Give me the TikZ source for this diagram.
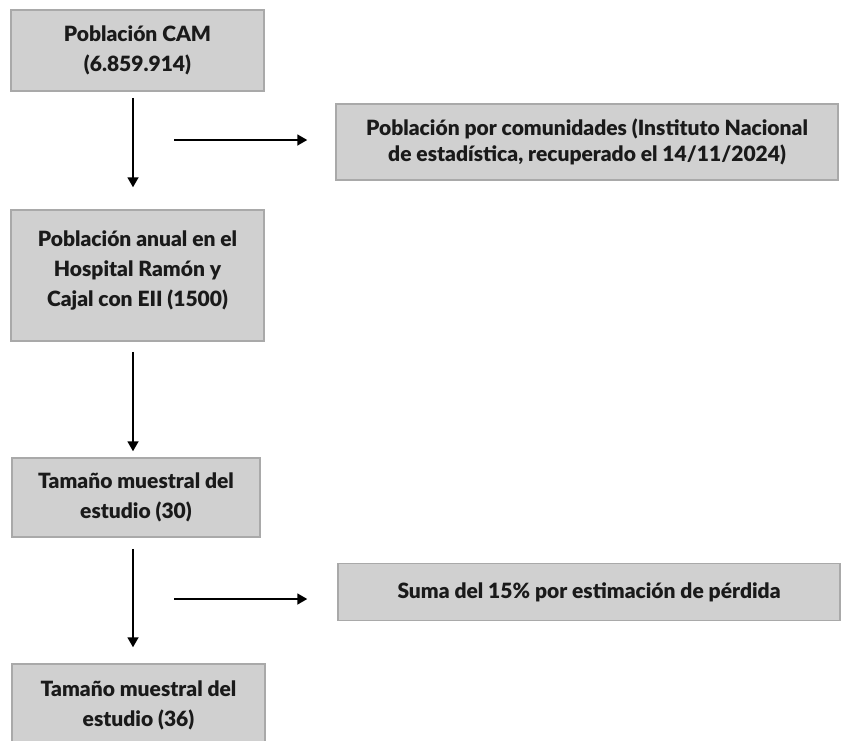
\documentclass[tikz,border=0pt]{standalone}
\usepackage{fontspec}
\setmainfont{Lato}[BoldFont={Lato Black}]
\usetikzlibrary{arrows.meta,positioning}
\definecolor{relleno}{HTML}{D0D0D0}
\definecolor{borde}{HTML}{A9A9A9}
\definecolor{texto}{HTML}{1A1A1A}
\tikzset{
    caja/.style={draw=borde, line width=1.5pt, fill=relleno, text=texto,
        font=\fontsize{21}{30}\selectfont\bfseries, align=center, inner sep=0pt},
    flecha/.style={-{Triangle[length=10pt,width=11pt]}, line width=1.8pt},
}
\begin{document}
\begin{tikzpicture}[x=1pt,y=-1pt]
    \useasboundingbox (0,0) rectangle (854,740);
    % columna izquierda
    \node[caja, minimum width=253pt, minimum height=81pt] (cam) at (137.5,50.5) {Población CAM\\(6.859.914)};
    \node[caja, minimum width=253pt, minimum height=131pt] (anual) at (137.5,275.5) {Población anual en el\\Hospital Ramón y\\Cajal con EII (1500)\\[-16pt]\mbox{}};
    \node[caja, minimum width=248pt, minimum height=79pt] (muestra) at (136,497.5) {Tamaño muestral del\\estudio (30)};
    \node[caja, minimum width=253pt, minimum height=82pt] (final) at (138.5,705) {Tamaño muestral del\\estudio (36)};
    % columna derecha
    \node[caja, font=\fontsize{21}{26}\selectfont\bfseries, minimum width=502pt, minimum height=76pt] (ine) at (587,142) {Población por comunidades (Instituto Nacional\\de estadística, recuperado el 14/11/2024)};
    \node[caja, minimum width=502pt, minimum height=57pt] (perdida) at (589,592) {Suma del 15\% por estimación de pérdida};
    % flechas
    \coordinate (eje) at (133,0);
    \coordinate (h1) at (174,140);
    \coordinate (h2) at (174,599);
    \draw[flecha, shorten <=6pt, shorten >=22pt] (cam.south -| eje) -- (anual.north -| eje);
    \draw[flecha, shorten <=10pt, shorten >=6pt] (anual.south -| eje) -- (muestra.north -| eje);
    \draw[flecha, shorten <=11pt, shorten >=16pt] (muestra.south -| eje) -- (final.north -| eje);
    \draw[flecha, shorten >=28pt] (h1) -- (h1 -| ine.west);
    \draw[flecha, shorten >=30pt] (h2) -- (h2 -| perdida.west);
\end{tikzpicture}
\end{document}
